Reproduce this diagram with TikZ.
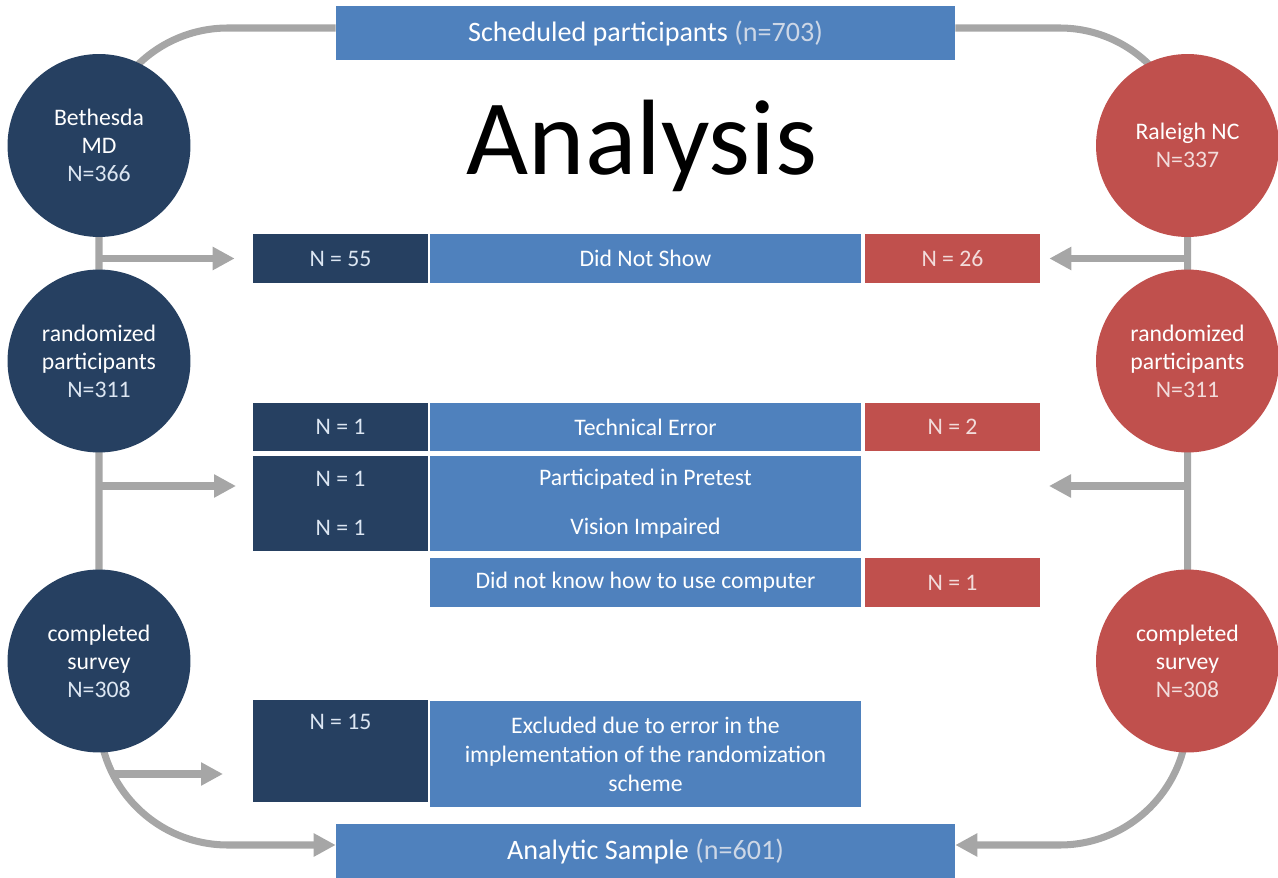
\documentclass[tikz,border=0pt]{standalone}
\usepackage{fontspec}
\setmainfont{Carlito}
\usetikzlibrary{arrows.meta,backgrounds}
\definecolor{navy}{RGB}{38,64,97}
\definecolor{midblue}{RGB}{79,129,189}
\definecolor{brick}{RGB}{192,80,77}
\definecolor{connector}{RGB}{166,166,166}
\definecolor{paleblue}{RGB}{220,230,242}
\definecolor{palered}{RGB}{242,220,219}
\definecolor{palegray}{RGB}{205,215,230}

\begin{document}
\begin{tikzpicture}[x=0.02cm, y=-0.02cm,
    site/.style={circle, minimum size=3.66cm, inner sep=0pt, align=center, text=white, font=\fontsize{13.5}{16}\selectfont},
    bar/.style={rectangle, fill=midblue, minimum width=12.38cm, minimum height=1.08cm, inner sep=0pt, text=white, font=\fontsize{16}{19}\selectfont},
    cell/.style={rectangle, inner sep=0pt, minimum height=0.98cm, align=center, text=white, font=\fontsize{13.5}{16.5}\selectfont},
    mdcell/.style={cell, fill=navy, minimum width=3.5cm, text=paleblue},
    reason/.style={cell, fill=midblue, minimum width=8.62cm},
    nccell/.style={cell, fill=brick, minimum width=3.5cm, text=palered},
    flow/.style={draw=connector, line width=4pt},
    arrow/.style={flow, -{Triangle[length=0.44cm, width=0.44cm]}}
]
    \useasboundingbox (0,0) rectangle (1278,878);

    \node[bar] (scheduled) at (645.5,33) {Scheduled participants {\color{palegray}(n=703)}};
    \node[bar] (analytic) at (645.5,851) {Analytic Sample {\color{palegray}(n=601)}};
    \node[font=\fontsize{61}{61}\selectfont] (title) at (642,146) {Analysis};

    % sites
    \node[site, fill=navy] (bm1) at (99,145.5) {Bethesda\\MD\\{\color{paleblue}N=366}};
    \node[site, fill=navy] (bm2) at (99,361) {randomized\\participants\\{\color{paleblue}N=311}};
    \node[site, fill=navy] (bm3) at (99,661) {completed\\survey\\{\color{paleblue}N=308}};
    \node[site, fill=brick] (nc1) at (1187.5,145.5) {Raleigh NC\\{\color{palered}N=337}};
    \node[site, fill=brick] (nc2) at (1187.5,361) {randomized\\participants\\{\color{palered}N=311}};
    \node[site, fill=brick] (nc3) at (1187.5,661) {completed\\survey\\{\color{palered}N=308}};

    % exclusions
    \node[mdcell] (md55) at (340.5,258.5) {N = 55};
    \node[reason] (noshow) at (645.5,258.5) {Did Not Show};
    \node[nccell] (nc26) at (952.5,258.5) {N = 26};

    \node[mdcell] (mdtech) at (340.5,427) {N = 1};
    \node[reason] (tech) at (645.5,427) {Technical Error};
    \node[nccell] (nctech) at (952.5,427) {N = 2};

    \node[mdcell, minimum height=1.9cm] (mdpre) at (340.5,503.5) {N = 1\\[11.5pt]N = 1};
    \node[reason, minimum height=1.9cm] (pretest) at (645.5,503.5) {Participated in Pretest\\[11.5pt]Vision Impaired};

    \node[reason] (computer) at (645.5,582.5) {Did not know how to use computer};
    \node[nccell] (nccomp) at (952.5,582.5) {N = 1};

    \node[mdcell, minimum height=2.04cm] (md15) at (340.5,751) {N = 15\\~\\~};
    \node[reason, minimum height=2.12cm] (scheme) at (645.5,754) {Excluded due to error in the\\implementation of the randomization\\scheme};

    \coordinate (mdexcl) at (236,486);
    \coordinate (ncexcl) at (1049,486);
    \coordinate (mdsplit) at (112,774);
    \coordinate (mdlate) at (223,774);

    \begin{scope}[on background layer]
        \draw[arrow, rounded corners=2.58cm] ([yshift=0.1cm]scheduled.west) -| (bm2.center) |- ([yshift=0.12cm]analytic.west);
        \draw[arrow, rounded corners=2.56cm] ([yshift=0.1cm]scheduled.east) -| (nc2.center) |- ([yshift=0.12cm]analytic.east);
        \draw[arrow, shorten >=0.36cm] (bm1 |- md55.west) -- (md55.west);
        \draw[arrow, shorten >=0.18cm] (nc1 |- nc26.east) -- (nc26.east);
        \draw[arrow] (bm2 |- mdexcl) -- (mdexcl);
        \draw[arrow] (nc2 |- ncexcl) -- (ncexcl);
        \draw[arrow] (mdsplit) -- (mdlate);
    \end{scope}
\end{tikzpicture}
\end{document}
